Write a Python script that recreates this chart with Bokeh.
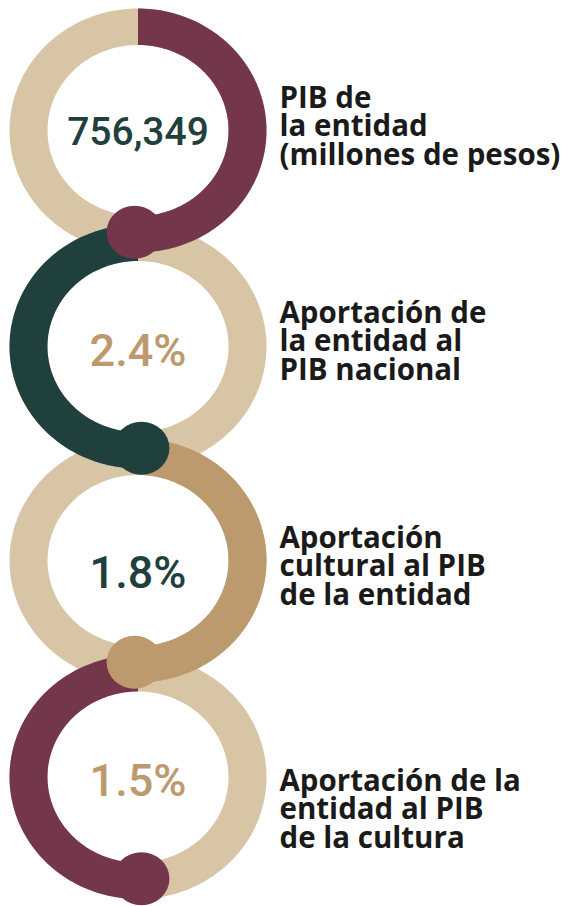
import numpy as np
from bokeh.plotting import figure
from bokeh.models import Range1d
from bokeh.embed import file_html
from bokeh.resources import INLINE
from bokeh.core.properties import value

# ---- data ----
values = ["756,349", "2.4%", "1.8%", "1.5%"]
labels = [
    ["PIB de", "la entidad", "(millones de pesos)"],
    ["Aportación de", "la entidad al", "PIB nacional"],
    ["Aportación", "cultural al PIB", "de la entidad"],
    ["Aportación de la", "entidad al PIB", "de la cultura"],
]
arc_colors = ["#74364A", "#1F403D", "#BD9A6E", "#74364A"]
value_colors = ["#1F403D", "#BD9A6E", "#1F403D", "#BD9A6E"]
arc_sides = ["right", "left", "right", "left"]
track_color = "#D8C5A5"
label_color = "#1A1A1A"

# ---- layout (pixel coordinates of the 561x906 window) ----
W, H = 561, 906
cx = 137.5
cy = [130, 346, 560, 776.5]
rx_out, ry_out, rx_in, ry_in = 128.5, 122.0, 90.5, 85.5
value_base = [130, 350, 572, 780]
value_size = ["39px", "45px", "45px", "45px"]
label_x = 279
label_mid = [124, 339, 564, 807]
line_step = 28.5
dot_w, dot_h = 56, 53
ext = np.deg2rad(1.8)

p = figure(width=W, height=H, output_backend="svg",
           toolbar_location=None, x_range=Range1d(0, W),
           y_range=Range1d(H, 0), min_border=0)
p.axis.visible = False
p.grid.visible = False
p.outline_line_color = None
p.background_fill_color = "white"
p.border_fill_color = "white"


def ell(c_y, rx, ry, t):
    return cx + rx * np.cos(t), c_y - ry * np.sin(t)


# tracks (full rings)
full = np.linspace(0, 2 * np.pi, 240)
tx, ty = [], []
for c in cy:
    ox, oy = ell(c, rx_out, ry_out, full)
    ix, iy = ell(c, rx_in, ry_in, full[::-1])
    tx.append([[list(ox), list(ix)]])
    ty.append([[list(oy), list(iy)]])
p.multi_polygons(xs=tx, ys=ty, fill_color=track_color, line_color=None)

# coloured half arcs with end dots (bottom ring drawn first)
rmx, rmy = (rx_out + rx_in) / 2, (ry_out + ry_in) / 2
for i in reversed(range(len(values))):
    if arc_sides[i] == "right":
        t = np.linspace(np.pi / 2, -np.pi / 2 - ext, 120)
    else:
        t = np.linspace(np.pi / 2, 3 * np.pi / 2 + ext, 120)
    ox, oy = ell(cy[i], rx_out, ry_out, t)
    ix, iy = ell(cy[i], rx_in, ry_in, t[::-1])
    p.patch(list(ox) + list(ix), list(oy) + list(iy),
            fill_color=arc_colors[i], line_color=None)
    dx, dy = ell(cy[i], rmx, rmy - 2, t[-1])
    p.ellipse(x=[dx], y=[dy], width=dot_w, height=dot_h,
              fill_color=arc_colors[i], line_color=None)

# centre values
for i, v in enumerate(values):
    p.text(x=[cx], y=[value_base[i]], text=[v], text_align="center",
           text_baseline="alphabetic", text_color=value_colors[i],
           text_font=value("Roboto Medium"), text_font_size=value_size[i])

# labels
for i, lines in enumerate(labels):
    ys = [label_mid[i] + (k - 1) * line_step for k in range(len(lines))]
    p.text(x=[label_x] * len(lines), y=ys, text=lines, text_align="left",
           text_baseline="alphabetic", text_color=label_color,
           text_font=value("Open Sans"), text_font_style="bold",
           text_font_size="29.5px")

open("out.html", "w").write(file_html(p, INLINE))
